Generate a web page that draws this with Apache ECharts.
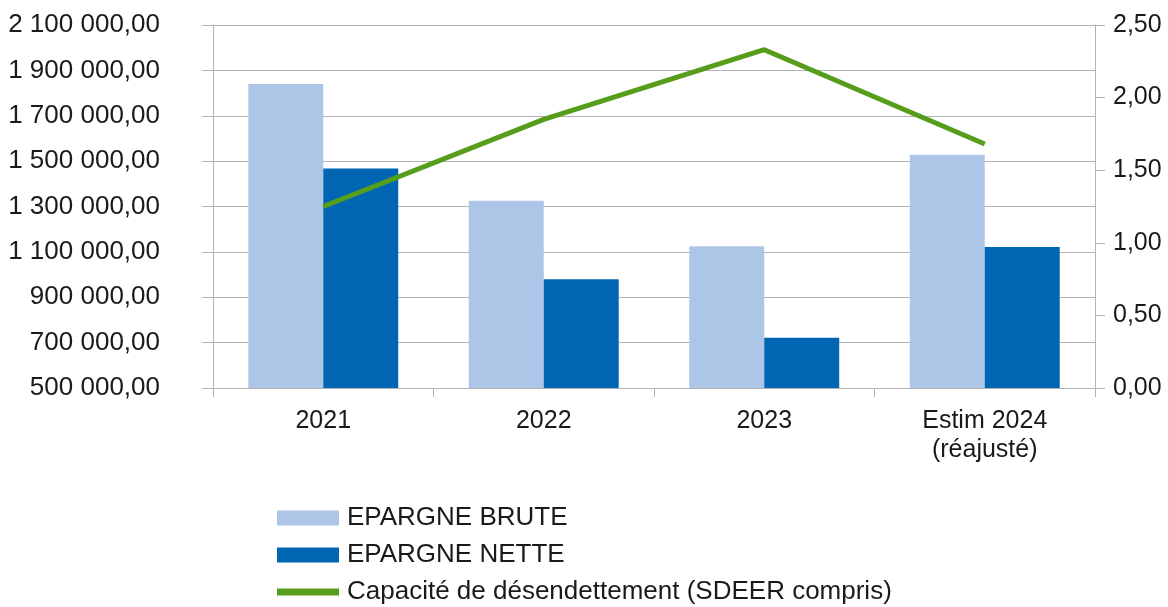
<!DOCTYPE html>
<html>
<head>
<meta charset="utf-8">
<script src="https://cdn.jsdelivr.net/npm/echarts@6/dist/echarts.min.js"></script>
<style>
html, body { margin: 0; padding: 0; background: #fff; }
#chart { width: 1168px; height: 607px; }
</style>
</head>
<body>
<div id="chart"></div>
<script>
var categories = ['2021', '2022', '2023', 'Estim 2024\n(réajusté)'];
var epargneBrute = [1840000, 1325000, 1125000, 1528000];
var epargneNette = [1467000, 979000, 722000, 1121000];
var capacite = [1.25, 1.85, 2.33, 1.68];

var font = 'Liberation Sans, Arial, sans-serif';
var txt = '#1a1a1a';
var gridCol = '#b3b3b3';

function fmtLeft(v) {
    var s = Math.round(v).toString().replace(/\B(?=(\d{3})+(?!\d))/g, ' ');
    return s + ',00';
}

var myChart = echarts.init(document.getElementById('chart'));
var option = {
    animation: false,
    grid: { left: 213, right: 73, top: 25, bottom: 219 },
    legend: {
        orient: 'vertical',
        left: 277,
        top: 505,
        padding: 0,
        itemWidth: 62,
        itemHeight: 15,
        itemGap: 11,
        textStyle: { fontFamily: font, fontSize: 26, lineHeight: 26, color: txt, padding: [0, 0, 0, 3] },
        data: [
            { name: 'EPARGNE BRUTE', icon: 'rect' },
            { name: 'EPARGNE NETTE', icon: 'rect' },
            { name: 'Capacité de désendettement (SDEER compris)', icon: 'path://M0,0H62V7H0Z' }
        ]
    },
    xAxis: {
        type: 'category',
        data: categories,
        axisLine: { lineStyle: { color: gridCol } },
        axisTick: { show: true, length: 9, lineStyle: { color: gridCol } },
        axisLabel: { fontFamily: font, fontSize: 25, color: txt, margin: 19, lineHeight: 29 }
    },
    yAxis: [
        {
            type: 'value',
            min: 500000,
            max: 2100000,
            interval: 200000,
            axisLine: { show: true, lineStyle: { color: gridCol } },
            axisTick: { show: true, length: 11, lineStyle: { color: gridCol } },
            splitLine: { lineStyle: { color: gridCol } },
            axisLabel: { fontFamily: font, fontSize: 26, color: txt, margin: 53, formatter: fmtLeft }
        },
        {
            type: 'value',
            min: 0,
            max: 2.5,
            interval: 0.5,
            axisLine: { show: true, lineStyle: { color: gridCol } },
            axisTick: { show: true, length: 10, lineStyle: { color: gridCol } },
            splitLine: { show: false },
            axisLabel: {
                fontFamily: font, fontSize: 25, color: txt, margin: 18,
                formatter: function (v) { return v.toFixed(2).replace('.', ','); }
            }
        }
    ],
    series: [
        {
            name: 'EPARGNE BRUTE',
            type: 'bar',
            data: epargneBrute,
            barGap: '0%',
            barCategoryGap: '32%',
            itemStyle: { color: '#adc5e7' }
        },
        {
            name: 'EPARGNE NETTE',
            type: 'bar',
            data: epargneNette,
            itemStyle: { color: '#0066b3' }
        },
        {
            name: 'Capacité de désendettement (SDEER compris)',
            type: 'line',
            yAxisIndex: 1,
            data: capacite,
            symbol: 'none',
            z: 5,
            lineStyle: { color: '#579d1c', width: 5 },
            itemStyle: { color: '#579d1c' }
        }
    ]
};
myChart.setOption(option);
window.onresize = myChart.resize;
</script>
</body>
</html>
